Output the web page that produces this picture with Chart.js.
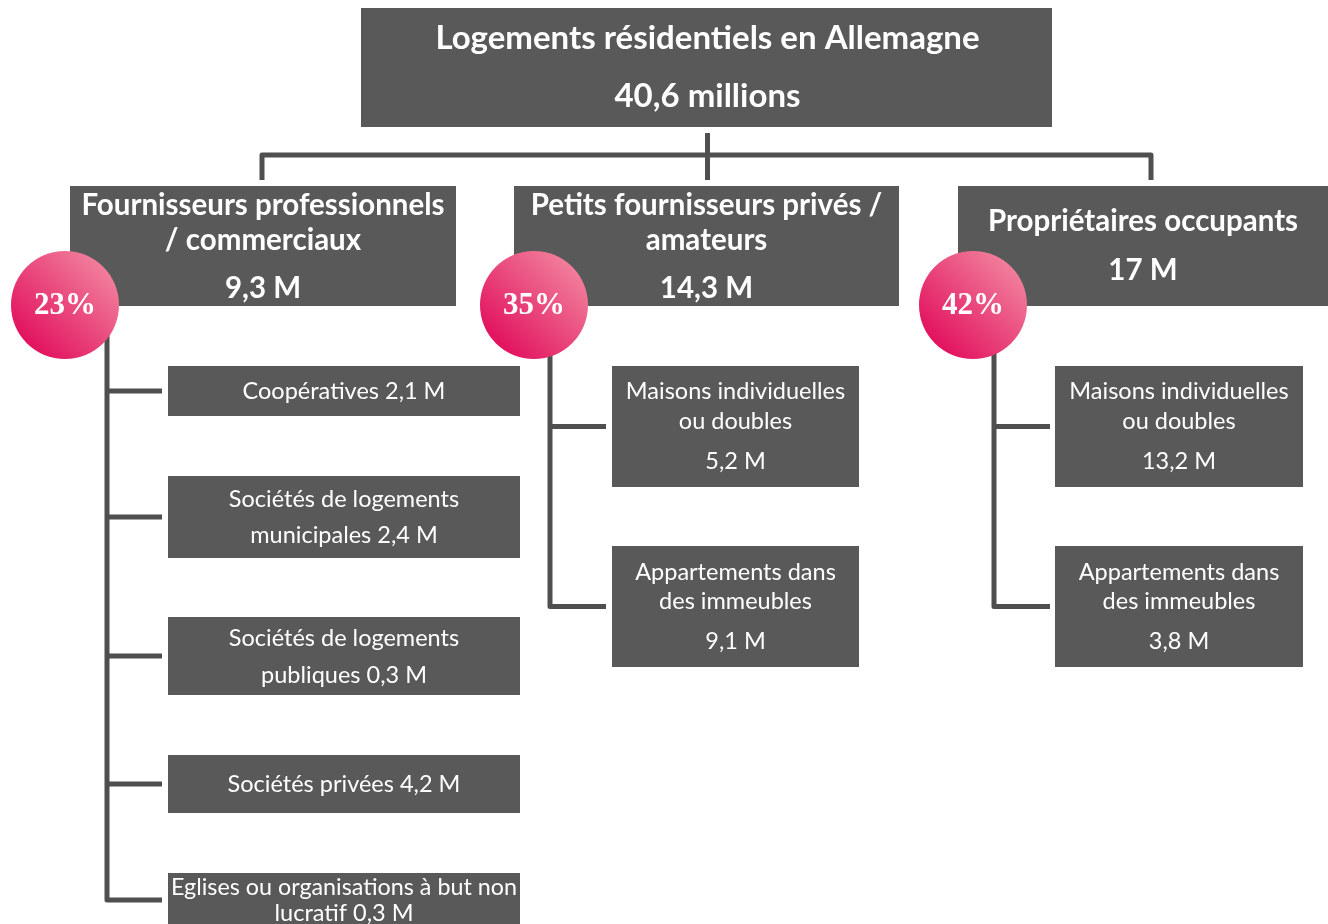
<!DOCTYPE html>
<html>
<head>
<meta charset="utf-8">
<script src="https://cdn.jsdelivr.net/npm/chart.js@4/dist/chart.umd.min.js"></script>
<style>
  html, body { margin: 0; padding: 0; background: #ffffff; }
  #wrap { width: 1328px; height: 924px; }
</style>
</head>
<body>
<div id="wrap"><canvas id="tree" width="1328" height="924"></canvas></div>
<script>
// data
const totalLabel = "Logements résidentiels en Allemagne";
const totalValue = 40.6;
const groupLabels = [
    ["Fournisseurs professionnels", "/ commerciaux"],
    ["Petits fournisseurs privés /", "amateurs"],
    ["Propriétaires occupants"]
];
const groupValues = [9.3, 14.3, 17];
const groupShares = [23, 35, 42];

const proLabels = [
    ["Coopératives"],
    ["Sociétés de logements", "municipales"],
    ["Sociétés de logements", "publiques"],
    ["Sociétés privées"],
    ["Eglises ou organisations à but non", "lucratif"]
];
const proValues = [2.1, 2.4, 0.3, 4.2, 0.3];

const privLabels = [["Maisons individuelles", "ou doubles"], ["Appartements dans", "des immeubles"]];
const privValues = [5.2, 9.1];

const ownLabels = [["Maisons individuelles", "ou doubles"], ["Appartements dans", "des immeubles"]];
const ownValues = [13.2, 3.8];

const fmt = v => v.toLocaleString('fr-FR');

// layout (pixels in the 1328 x 924 frame)
const BOX = '#595959', LINE = '#4f4f4f';
const topBox = { x0: 361, x1: 1052, y0: 8, y1: 127, ty: [38, 96] };
const groupBoxes = [
    { x0: 70, x1: 456, y0: 186, y1: 306, ty: [205, 240, 288], cx: 65, cy: 305 },
    { x0: 514, x1: 899, y0: 186, y1: 306, ty: [205, 240, 288], cx: 534, cy: 305 },
    { x0: 958, x1: 1328, y0: 186, y1: 306, ty: [221, 270], cx: 973, cy: 305 }
];
const subLayout = [
    { x0: 168, x1: 520, trunk: 107, stub: 162, inline: true,
      rows: [[366, 416, [391]], [476, 558, [499, 535]], [617, 695, [638, 675]], [755, 813, [784]], [873, 932, [887, 913]]] },
    { x0: 612, x1: 859, trunk: 550, stub: 606, inline: false,
      rows: [[366, 487, [391, 421, 461]], [546, 667, [572, 601, 641]]] },
    { x0: 1055, x1: 1303, trunk: 994, stub: 1050, inline: false,
      rows: [[366, 487, [391, 421, 461]], [546, 667, [572, 601, 641]]] }
];
const subLabels = [proLabels, privLabels, ownLabels];
const subValues = [proValues, privValues, ownValues];

const treePlugin = {
    id: 'tree',
    afterDraw(chart) {
        const ctx = chart.ctx;
        const sx = v => chart.scales.x.getPixelForValue(v);
        const sy = v => chart.scales.y.getPixelForValue(v);

        const rect = (x0, y0, x1, y1) => {
            ctx.fillStyle = BOX;
            ctx.fillRect(sx(x0), sy(y0), sx(x1) - sx(x0), sy(y1) - sy(y0));
        };
        const path = pts => {
            ctx.beginPath();
            pts.forEach((p, i) => i ? ctx.lineTo(sx(p[0]), sy(p[1])) : ctx.moveTo(sx(p[0]), sy(p[1])));
            ctx.stroke();
        };
        const text = (str, x, y, font, maxW) => {
            ctx.font = font;
            ctx.fillStyle = '#ffffff';
            ctx.textAlign = 'center';
            ctx.textBaseline = 'middle';
            ctx.fillText(str, sx(x), sy(y), maxW);
        };

        ctx.save();
        ctx.strokeStyle = LINE;
        ctx.lineWidth = 5;
        ctx.lineJoin = 'round';
        ctx.lineCap = 'butt';

        // top connectors
        const mid = (topBox.x0 + topBox.x1) / 2 + 1;
        const left = (groupBoxes[0].x0 + groupBoxes[0].x1) / 2 - 1;
        const right = 1151;
        path([[mid, 133], [mid, 180]]);
        path([[left, 180], [left, 155], [right, 155], [right, 180]]);

        // top box
        rect(topBox.x0, topBox.y0, topBox.x1, topBox.y1);
        const tc = (topBox.x0 + topBox.x1) / 2 + 1;
        text(totalLabel, tc, topBox.ty[0], 'bold 33px Lato');
        text(fmt(totalValue) + ' millions', tc, topBox.ty[1], 'bold 33px Lato');

        // groups
        groupBoxes.forEach((g, i) => {
            const lay = subLayout[i];
            // trunk + stubs
            const rows = lay.rows;
            const stubYs = rows.map(r => i === 0 && r === rows[rows.length - 1] ? 900 : (r[0] + r[1]) / 2);
            ctx.strokeStyle = LINE;
            path([[lay.trunk, g.cy + 30], [lay.trunk, stubYs[stubYs.length - 1]], [lay.stub, stubYs[stubYs.length - 1]]]);
            stubYs.slice(0, -1).forEach(y => path([[lay.trunk, y], [lay.stub, y]]));

            // group box
            rect(g.x0, g.y0, g.x1, g.y1);
            const gc = (g.x0 + g.x1) / 2;
            const lines = groupLabels[i].concat([fmt(groupValues[i]) + ' M']);
            lines.forEach((l, k) => text(l, gc, g.ty[k], 'bold 29.5px Lato', g.x1 - g.x0 - 8));

            // share circle
            const r = sx(54) - sx(0);
            const cx = sx(g.cx), cy = sy(g.cy);
            const grad = ctx.createLinearGradient(cx - r * 0.7, cy + r * 0.7, cx + r * 0.7, cy - r * 0.7);
            grad.addColorStop(0, '#e2125f');
            grad.addColorStop(1, '#f17d9a');
            ctx.fillStyle = grad;
            ctx.beginPath();
            ctx.arc(cx, cy, r, 0, Math.PI * 2);
            ctx.fill();
            text(groupShares[i] + '%', g.cx, g.cy + 1, 'bold 31px "Liberation Serif"');

            // sub boxes
            rows.forEach((row, k) => {
                rect(lay.x0, row[0], lay.x1, row[1]);
                const sc = (lay.x0 + lay.x1) / 2;
                let ls = subLabels[i][k].slice();
                const val = fmt(subValues[i][k]) + ' M';
                if (lay.inline) ls[ls.length - 1] += ' ' + val;
                else ls.push(val);
                ls.forEach((l, j) => text(l, sc, row[2][j], '23.5px Lato', lay.x1 - lay.x0 - 6));
            });
        });
        ctx.restore();
    }
};

new Chart(document.getElementById('tree'), {
    type: 'scatter',
    data: { datasets: [{ data: [] }] },
    options: {
        responsive: false,
        animation: false,
        layout: { padding: 0 },
        plugins: { legend: { display: false }, tooltip: { enabled: false } },
        scales: {
            x: { type: 'linear', min: 0, max: 1328, display: false },
            y: { type: 'linear', min: 0, max: 924, reverse: true, display: false }
        }
    },
    plugins: [treePlugin]
});
</script>
</body>
</html>
